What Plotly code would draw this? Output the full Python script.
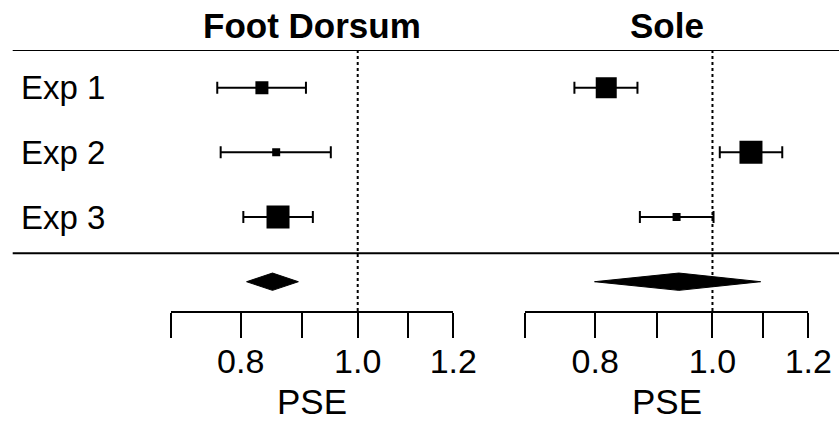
import numpy as np
import plotly.graph_objects as go

# ---- data ----
experiments = ["Exp 1", "Exp 2", "Exp 3"]
panels = ["Foot Dorsum", "Sole"]

dorsum_pse = [0.833, 0.856, 0.859]
dorsum_lo = [0.765, 0.770, 0.804]
dorsum_hi = [0.906, 0.950, 0.918]
dorsum_weight = [13, 8, 23]          # square size (relative weight)
dorsum_summary = [0.809, 0.850, 0.893]  # lo, est, hi

sole_pse = [0.817, 1.076, 0.934]
sole_lo = [0.769, 1.014, 0.871]
sole_hi = [0.867, 1.142, 1.002]
sole_weight = [21, 23, 8]
sole_summary = [0.799, 0.938, 1.096]

tick_vals = [0.7, 0.8, 0.9, 1.0, 1.1, 1.2]
tick_text = ["", "0.8", "", "1.0", "", "1.2"]

# ---- layout constants ----
W, H = 839, 425
FONT = "Liberation Sans, Arial, Helvetica, sans-serif"
row_y = [4, 3, 2]
summary_y = 1
diamond_half = 0.134
y_range = [0.547, 4.583]
y_domain = [(H - 311) / H, (H - 50) / H]
dom1 = [170.7 / W, 453.3 / W]
dom2 = [525.0 / W, 808.3 / W]

fig = go.Figure()

def add_panel(pse, lo, hi, weight, summary, xa):
    fig.add_trace(go.Scatter(
        x=pse, y=row_y, mode="markers", xaxis=xa, yaxis="y",
        marker=dict(symbol="square", size=weight, color="black", opacity=1,
                    line=dict(width=0)),
        error_x=dict(type="data", symmetric=False,
                     array=[h - p for h, p in zip(hi, pse)],
                     arrayminus=[p - l for p, l in zip(pse, lo)],
                     color="black", thickness=2, width=6),
        showlegend=False, hoverinfo="x"))
    s_lo, s_est, s_hi = summary
    fig.add_trace(go.Scatter(
        x=[s_lo, s_est, s_hi, s_est, s_lo],
        y=[summary_y, summary_y + diamond_half, summary_y, summary_y - diamond_half, summary_y],
        mode="lines", fill="toself", fillcolor="black",
        line=dict(color="black", width=1), xaxis=xa, yaxis="y",
        showlegend=False, hoverinfo="skip"))

add_panel(dorsum_pse, dorsum_lo, dorsum_hi, dorsum_weight, dorsum_summary, "x")
add_panel(sole_pse, sole_lo, sole_hi, sole_weight, sole_summary, "x2")

xaxis_common = dict(
    type="log", range=[np.log10(0.7), np.log10(1.2)],
    tickmode="array", tickvals=tick_vals, ticktext=tick_text,
    ticks="outside", ticklen=25, tickwidth=2, tickcolor="black",
    showline=True, linecolor="black", linewidth=2,
    showgrid=False, zeroline=False, anchor="y", automargin=False,
    tickfont=dict(family=FONT, size=34, color="black"),
    ticklabelstandoff=-6,
    fixedrange=True,
)

fig.update_layout(
    width=W, height=H, autosize=False, margin=dict(l=0, r=0, t=0, b=0, pad=0),
    paper_bgcolor="white", plot_bgcolor="white",
    font=dict(family=FONT, color="black"),
    xaxis=dict(domain=dom1, **xaxis_common),
    xaxis2=dict(domain=dom2, **xaxis_common),
    yaxis=dict(domain=y_domain, range=y_range, visible=False, fixedrange=True,
               automargin=False),
)

# separator lines and null lines
sep_y = [y_range[1], 1.439]
for yy in sep_y:
    fig.add_shape(type="line", xref="paper", yref="y", x0=12.7 / W, x1=1.0,
                  y0=yy, y1=yy, line=dict(color="black", width=2))
for xa in ["x", "x2"]:
    fig.add_shape(type="line", xref=xa, yref="y domain", x0=1.0, x1=1.0,
                  y0=0, y1=1, line=dict(color="black", width=2, dash="dot"))

# row labels
for lab, yy in zip(experiments, row_y):
    fig.add_annotation(text=lab, xref="paper", yref="y", x=19 / W, y=yy,
                       xanchor="left", yanchor="middle", showarrow=False,
                       font=dict(family=FONT, size=33, color="black"))

# panel titles and axis titles
for name, dom in zip(panels, [dom1, dom2]):
    cx = (dom[0] + dom[1]) / 2
    fig.add_annotation(text="<b>" + name + "</b>", xref="paper", yref="paper",
                       x=cx, y=(H - 26) / H, xanchor="center", yanchor="middle",
                       showarrow=False, font=dict(family=FONT, size=35, color="black"))
    fig.add_annotation(text="PSE", xref="paper", yref="paper",
                       x=cx, y=(H - 401) / H, xanchor="center", yanchor="middle",
                       showarrow=False, font=dict(family=FONT, size=35, color="black"))

html = fig.to_html(full_html=True, include_plotlyjs=True,
                   config={"responsive": False, "displayModeBar": False},
                   default_width="839px", default_height="425px")
html = html.replace("<head>", "<head><style>html,body{margin:0;padding:0;overflow:hidden;}</style>", 1)
with open("out.html", "w", encoding="utf-8") as f:
    f.write(html)
